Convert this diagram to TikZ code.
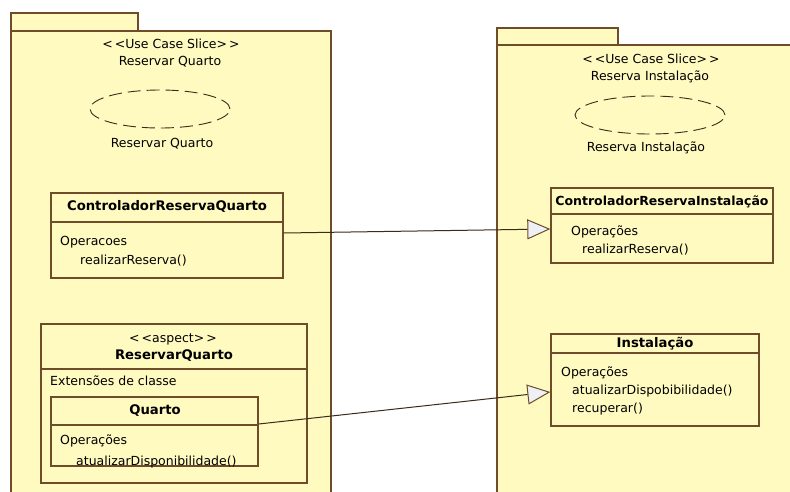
\documentclass[tikz,border=0pt]{standalone}
\usepackage{fontspec}
\setmainfont{DejaVu Sans}
\usetikzlibrary{arrows.meta,shapes.geometric}

\definecolor{pkgfill}{HTML}{FFFAC0}
\definecolor{edge}{HTML}{6E4C2A}
\definecolor{wire}{HTML}{3C2A1A}
\definecolor{headfill}{HTML}{EEF0F6}

\tikzset{
  pkgbox/.style={draw=edge, fill=pkgfill, line width=1.3pt},
  clsbox/.style={draw=edge, fill=pkgfill, line width=1.3pt, rectangle, inner sep=0pt},
  sepline/.style={draw=edge, line width=1.3pt},
  usecase/.style={ellipse, draw=wire, line width=0.9pt, dash pattern=on 13pt off 6pt, inner sep=0pt},
  lbl/.style={inner sep=0pt, text height=9pt, text depth=2.7pt, font=\fontsize{12.5}{14}\selectfont},
  ttl/.style={inner sep=0pt, text height=9.5pt, text depth=2.7pt, font=\fontsize{13.2}{15}\selectfont\bfseries},
  leftlbl/.style={lbl, anchor=west},
  realize/.style={draw=wire, line width=1pt,
    -{Triangle[length=23pt, width=20pt, fill=headfill, color=edge, line width=1pt]}},
}

\begin{document}
\begin{tikzpicture}[x=1pt, y=-1pt]
\useasboundingbox (0,0) rectangle (790,491);
\fill[white] (0,0) rectangle (790,491);

% ---- package: Reservar Quarto ----
\draw[pkgbox] (11,13) rectangle (138,31);
\draw[pkgbox] (11,31) rectangle (331,496);
\node[lbl] (lsl) at (171,45) {<\,<Use Case Slice>\,>};
\node[lbl] (lnm) at (170,62) {Reservar Quarto};
\node[usecase, minimum width=140pt, minimum height=38pt] (uc1) at (160,109) {};
\node[lbl] (uc1l) at (162,144) {Reservar Quarto};

% class ControladorReservaQuarto
\node[clsbox, minimum width=232pt, minimum height=85pt] (crq) at (167,235.5) {};
\draw[sepline] (crq.west |- 0,222) -- (crq.east |- 0,222);
\node[ttl] (crqt) at (167,207) {ControladorReservaQuarto};
\node[leftlbl] (crqo) at (60,242) {Operacoes};
\node[leftlbl] (crqm) at (80,261) {realizarReserva()};

% aspect ReservarQuarto
\node[clsbox, minimum width=266pt, minimum height=159pt] (asp) at (174,403.5) {};
\draw[sepline] (asp.west |- 0,369) -- (asp.east |- 0,369);
\node[lbl] (aspst) at (173,339) {<\,<aspect>\,>};
\node[ttl] (aspt) at (174,356) {ReservarQuarto};
\node[leftlbl] (aspx) at (50,382) {Extensões de classe};

% class Quarto
\node[clsbox, minimum width=207pt, minimum height=69pt] (qrt) at (154.5,431.5) {};
\draw[sepline] (qrt.west |- 0,425) -- (qrt.east |- 0,425);
\node[ttl] (qrtt) at (155,411) {Quarto};
\node[leftlbl] (qrto) at (60,441) {Operações};
\node[leftlbl] (qrtm) at (76,462) {atualizarDisponibilidade()};

% ---- package: Reserva Instalação ----
\draw[pkgbox] (497,28) rectangle (618,45);
\draw[pkgbox] (497,45) rectangle (796,496);
\node[lbl] (rsl) at (651,60) {<\,<Use Case Slice>\,>};
\node[lbl] (rnm) at (650,77) {Reserva Instalação};
\node[usecase, minimum width=150pt, minimum height=38pt] (uc2) at (650,115) {};
\node[lbl] (uc2l) at (646,148) {Reserva Instalação};

% class ControladorReservaInstalação
\node[clsbox, minimum width=222pt, minimum height=75pt] (cri) at (662,225.5) {};
\draw[sepline] (cri.west |- 0,214) -- (cri.east |- 0,214);
\node[ttl, font=\fontsize{12.5}{15}\selectfont\bfseries] (crit) at (662,202) {ControladorReservaInstalação};
\node[leftlbl] (crio) at (571,232) {Operações};
\node[leftlbl] (crim) at (582,250) {realizarReserva()};

% class Instalação
\node[clsbox, minimum width=208pt, minimum height=92pt] (ins) at (655,380) {};
\draw[sepline] (ins.west |- 0,353) -- (ins.east |- 0,353);
\node[ttl] (inst) at (655,344) {Instalação};
\node[leftlbl] (inso) at (561,373) {Operações};
\node[leftlbl] (insm) at (572,391) {atualizarDispobibilidade()};
\node[leftlbl] (insr) at (572,409) {recuperar()};

% ---- realization connectors ----
\draw[realize] ([yshift=2.5pt]crq.east) -- ([yshift=-3.5pt]cri.west);
\draw[realize] ([yshift=7.5pt]qrt.east) -- ([yshift=-12pt]ins.west);
\end{tikzpicture}
\end{document}
